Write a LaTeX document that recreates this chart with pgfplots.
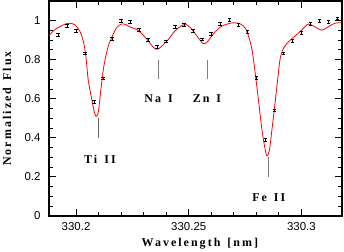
\documentclass[border=0pt]{standalone}
\usepackage{fontspec}
\setmainfont{Liberation Serif}
\setsansfont{Liberation Sans}
\newfontfamily\labfont{Liberation Serif}[LetterSpace=17]
\usepackage{pgfplots}
\pgfplotsset{compat=1.18}
\begin{document}
\begin{tikzpicture}
\begin{axis}[
  scale only axis,
  width=293bp, height=215bp,
  xmin=330.188, xmax=330.318,
  ymin=0, ymax=1.1,
  xtick={330.2,330.25,330.3},
  ytick={0,0.2,0.4,0.6,0.8,1},
  minor x tick num=4,
  minor y tick num=3,
  tick align=inside,
  major tick length=7bp,
  minor tick length=4bp,
  axis line style={line width=1.1pt},
  every tick/.style={black, line width=0.9pt},
  xticklabel style={font=\sffamily\fontsize{11.5}{11.5}\selectfont, yshift=-3bp},
  yticklabel style={font=\sffamily\fontsize{11.5}{11.5}\selectfont, xshift=-5bp},
  /pgf/number format/assume math mode=true,
  scaled x ticks=false,
  xticklabel={\pgfmathprintnumber[fixed,precision=2]{\tick}},
  yticklabel={\pgfmathprintnumber[fixed,precision=1]{\tick}},
  xlabel={Wavelength\, [nm]},
  ylabel={Normalized\, Flux},
  every axis x label/.style={at={(axis description cs:0.515,-0.13)}, anchor=center, font=\labfont\bfseries\fontsize{12}{12}\selectfont},
  every axis y label/.style={at={(axis description cs:-0.143,0.5)}, anchor=center, rotate=90, font=\labfont\bfseries\fontsize{12}{12}\selectfont},
  clip=true,
]
% model curve
\addplot[red, line width=0.8pt, smooth, tension=0.5] coordinates {
(330.1879,0.922) (330.1907,0.955) (330.1930,0.969) (330.1952,0.982) (330.1974,0.986)
(330.1996,0.977) (330.2018,0.943) (330.2032,0.895) (330.2043,0.824) (330.2054,0.696)
(330.2069,0.602) (330.2079,0.542) (330.2089,0.509) (330.2099,0.534) (330.2109,0.634)
(330.2123,0.764) (330.2142,0.866) (330.2157,0.909) (330.2179,0.962) (330.2201,0.982)
(330.2220,0.980) (330.2238,0.968) (330.2274,0.951) (330.2311,0.909) (330.2341,0.866)
(330.2358,0.853) (330.2378,0.866) (330.2407,0.900) (330.2436,0.943) (330.2466,0.972)
(330.2488,0.980) (330.2510,0.960) (330.2539,0.917) (330.2564,0.882) (330.2583,0.892)
(330.2612,0.935) (330.2642,0.968) (330.2671,0.982) (330.2700,0.989) (330.2730,0.982)
(330.2752,0.960) (330.2766,0.917) (330.2781,0.849) (330.2796,0.721) (330.2811,0.576)
(330.2825,0.440) (330.2837,0.353) (330.2847,0.307) (330.2858,0.338) (330.2869,0.440)
(330.2881,0.559) (330.2896,0.713) (330.2906,0.808) (330.2921,0.859) (330.2943,0.892)
(330.2972,0.921) (330.3001,0.951) (330.3031,0.982) (330.3060,0.968) (330.3089,0.951)
(330.3119,0.968) (330.3148,0.986) (330.3178,0.989)
};
% data with error bars
\addplot[draw=none, mark=none,
  error bars/.cd, y dir=both, y fixed=0.007,
  error bar style={black, solid, line width=0.6pt},
  error mark options={black, rotate=90, mark size=1.8bp, line width=0.6pt}]
coordinates {
(330.192,0.926) (330.196,0.972) (330.200,0.948) (330.204,0.832) (330.208,0.585)
(330.212,0.704) (330.216,0.905) (330.220,0.999) (330.224,0.992) (330.228,0.953)
(330.232,0.900) (330.236,0.864) (330.240,0.894) (330.244,0.968) (330.248,0.977)
(330.252,0.948) (330.256,0.904) (330.260,0.932) (330.264,0.984) (330.268,1.005)
(330.272,0.977) (330.276,0.941) (330.280,0.706) (330.284,0.389) (330.288,0.541)
(330.292,0.832) (330.296,0.897) (330.300,0.938) (330.304,0.984) (330.308,0.999)
(330.312,0.992) (330.316,1.011)
};
% line markers
\addplot[gray!80!black, line width=0.8pt] coordinates {(330.2101,0.40) (330.2101,0.50)};
\addplot[gray, line width=0.8pt] coordinates {(330.2364,0.70) (330.2364,0.80)};
\addplot[gray, line width=0.8pt] coordinates {(330.2581,0.70) (330.2581,0.80)};
\addplot[gray, line width=0.8pt] coordinates {(330.2853,0.20) (330.2853,0.30)};
\node[font=\labfont\bfseries\fontsize{12}{12}\selectfont] at (axis cs:330.2106,0.29) {Ti\, II};
\node[font=\labfont\bfseries\fontsize{12}{12}\selectfont] at (axis cs:330.2366,0.60) {Na\, I};
\node[font=\labfont\bfseries\fontsize{12}{12}\selectfont] at (axis cs:330.2581,0.60) {Zn\, I};
\node[font=\labfont\bfseries\fontsize{12}{12}\selectfont] at (axis cs:330.2855,0.094) {Fe\, II};
\end{axis}
\pgfresetboundingbox
\path[use as bounding box] ([shift={(-49bp,-36bp)}]current axis.south west) rectangle ([shift={(2bp,1bp)}]current axis.north east);
\end{tikzpicture}
\end{document}
